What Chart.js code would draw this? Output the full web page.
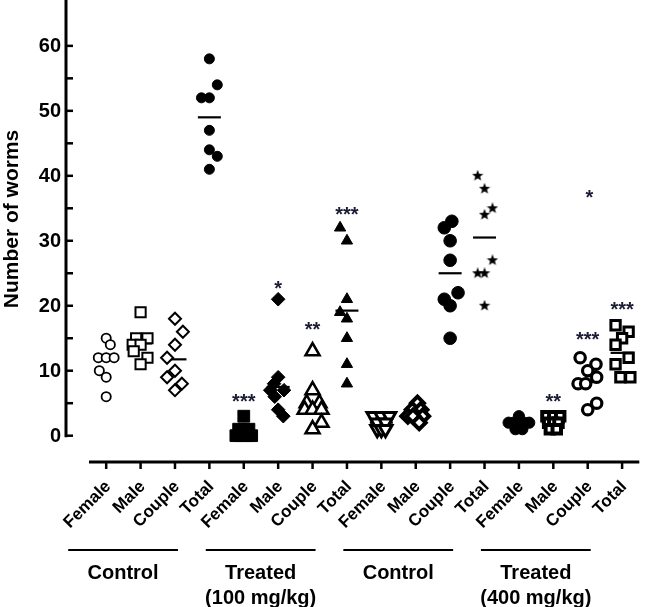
<!DOCTYPE html>
<html>
<head>
<meta charset="utf-8">
<script src="https://cdn.jsdelivr.net/npm/chart.js@4.4.1/dist/chart.umd.min.js"></script>
<style>
  html, body { margin: 0; padding: 0; background: #fff; }
</style>
</head>
<body>
<canvas id="chart" width="653" height="607"></canvas>
<script>
// ---- data ----
const categories = ['Female', 'Male', 'Couple', 'Total', 'Female', 'Male', 'Couple', 'Total',
                    'Female', 'Male', 'Couple', 'Total', 'Female', 'Male', 'Couple', 'Total'];
const groupNames = [['Control'], ['Treated', '(100 mg/kg)'], ['Control'], ['Treated', '(400 mg/kg)']];
const yTicks = [0, 10, 20, 30, 40, 50, 60];

// worms per animal, one array per column
const ctrlFemale  = [15, 14, 12, 12, 12, 10, 9, 6];
const ctrlMale    = [19, 15, 15, 14, 14, 13, 12, 11];
const ctrlCouple  = [18, 16, 14, 12, 10, 9, 8, 7];
const ctrlTotal   = [58, 54, 52, 52, 47, 44, 43, 41];
const t100Female  = [3, 1, 1, 1, 0, 0, 0, 0];
const t100Male    = [21, 9, 8, 7, 7, 6, 4, 3];
const t100Couple  = [13, 7, 5, 5, 4, 4, 4, 2, 1];
const t100Total   = [32, 30, 21, 19, 18, 15, 11, 8];
const ctrl2Female = [3, 3, 3, 2, 2, 1, 1, 1];
const ctrl2Male   = [5, 4, 4, 3, 3, 3, 3, 2];
const ctrl2Couple = [33, 32, 30, 27, 22, 21, 20, 15];
const ctrl2Total  = [40, 38, 35, 34, 27, 25, 25, 20];
const t400Female  = [3, 2, 2, 2, 2, 2, 1, 1];
const t400Male    = [3, 3, 3, 2, 2, 2, 1, 1];
const t400Couple  = [12, 11, 10, 9, 8, 8, 5, 4];
const t400Total   = [17, 16, 15, 14, 12, 11, 9, 9];

// horizontal scatter of each point inside its column (category units)
const ctrlFemaleJit  = [0, 0.12, -0.23, 0, 0.23, -0.2, 0, 0];
const ctrlMaleJit    = [0, -0.13, 0.2, -0.23, 0, -0.2, 0.2, 0];
const ctrlCoupleJit  = [0, 0.23, 0, -0.23, 0, -0.23, 0.2, 0];
const ctrlTotalJit   = [0, 0.23, -0.23, 0, 0, 0, 0.23, 0];
const t100FemaleJit  = [0, -0.15, 0, 0.15, -0.23, -0.08, 0.08, 0.23];
const t100MaleJit    = [0, 0, -0.12, -0.23, 0.17, -0.1, 0, 0.15];
const t100CoupleJit  = [0, 0, -0.17, 0.2, -0.23, 0, 0.26, 0.26, 0];
const t100TotalJit   = [-0.2, 0, 0, -0.2, 0, 0, 0, 0];
const ctrl2FemaleJit = [-0.23, 0, 0.23, -0.12, 0.12, -0.12, 0, 0.12];
const ctrl2MaleJit   = [0.05, -0.1, 0.15, -0.23, 0, 0.2, -0.08, 0.1];
const ctrl2CoupleJit = [0.05, -0.17, 0, 0, 0.23, -0.17, 0, 0];
const ctrl2TotalJit  = [-0.2, 0, 0.23, 0, 0.23, -0.2, 0, 0];
const t400FemaleJit  = [0, -0.3, -0.15, 0, 0.15, 0.3, -0.1, 0.1];
const t400MaleJit    = [-0.2, 0, 0.2, -0.15, 0, 0.15, -0.1, 0.1];
const t400CoupleJit  = [-0.22, 0.24, 0, 0.26, -0.28, -0.06, 0.26, 0];
const t400TotalJit   = [-0.19, 0.19, 0, -0.19, 0.19, -0.19, -0.05, 0.24];

const columnValues = [ctrlFemale, ctrlMale, ctrlCouple, ctrlTotal, t100Female, t100Male, t100Couple, t100Total,
                      ctrl2Female, ctrl2Male, ctrl2Couple, ctrl2Total, t400Female, t400Male, t400Couple, t400Total];
const columnJitter = [ctrlFemaleJit, ctrlMaleJit, ctrlCoupleJit, ctrlTotalJit, t100FemaleJit, t100MaleJit,
                      t100CoupleJit, t100TotalJit, ctrl2FemaleJit, ctrl2MaleJit, ctrl2CoupleJit, ctrl2TotalJit,
                      t400FemaleJit, t400MaleJit, t400CoupleJit, t400TotalJit];

// mean bars as drawn
const means = [11.7, 14.2, 11.75, 49, 0.75, 7.5, 4.5, 19.25, 2, 3.5, 25, 30.5, 2, 2, 8.25, 12.75];

// significance marks and the value they sit at
const sigMarks  = ['', '', '', '', '***', '*', '**', '***', '', '', '', '', '', '**', '***', '***'];
const sigLevels = [0, 0, 0, 0, 6, 23.4, 17.1, 34.8, 0, 0, 0, 0, 0, 6, 15.5, 20.2];
const extraMarks = [[14.05, 37.5, '*']];

// ---- marker styles ----
function starImage(size) {
    const cv = document.createElement('canvas');
    cv.width = size; cv.height = size;
    const c = cv.getContext('2d');
    const r = size / 2, ri = r * 0.42;
    c.beginPath();
    for (let k = 0; k < 10; k++) {
        const a = -Math.PI / 2 + k * Math.PI / 5;
        const rr = k % 2 ? ri : r;
        c.lineTo(r + rr * Math.cos(a), r + rr * Math.sin(a));
    }
    c.closePath();
    c.fillStyle = '#000';
    c.fill();
    return cv;
}

const W = '#fff', B = '#000';
const markers = [
    { style: 'circle', r: 4.6, fill: W, bw: 1.8 },
    { style: 'rect', r: 7.2, fill: W, bw: 2 },
    { style: 'rectRot', r: 6, fill: W, bw: 2 },
    { style: 'circle', r: 5, fill: B, bw: 1 },
    { style: 'rect', r: 8.3, fill: B, bw: 1 },
    { style: 'rectRot', r: 6.8, fill: B, bw: 1 },
    { style: 'triangle', r: 8, fill: W, bw: 2.6 },
    { style: 'triangle', r: 6.5, fill: B, bw: 1 },
    { style: 'triangle', r: 7.5, fill: W, bw: 3, rot: 180 },
    { style: 'rectRot', r: 6.5, fill: W, bw: 4 },
    { style: 'circle', r: 6.3, fill: B, bw: 1 },
    { style: starImage(12), r: 6, fill: B, bw: 0 },
    { style: 'circle', r: 5.6, fill: B, bw: 1 },
    { style: 'rect', r: 6, fill: W, bw: 4 },
    { style: 'circle', r: 5.2, fill: W, bw: 3.2 },
    { style: 'rect', r: 6.6, fill: W, bw: 3 }
];

const datasets = columnValues.map((vals, i) => ({
    label: categories[i],
    data: vals.map((v, k) => ({ x: i + columnJitter[i][k], y: v })),
    pointStyle: markers[i].style,
    pointRadius: markers[i].r,
    pointRotation: markers[i].rot || 0,
    pointBackgroundColor: markers[i].fill,
    pointBorderColor: B,
    pointBorderWidth: markers[i].bw,
    showLine: false,
    clip: false
}));

datasets.push({
    label: 'mean',
    data: means.map((m, i) => ({ x: i, y: m })),
    pointStyle: 'line',
    pointRadius: 11.5,
    pointBorderColor: B,
    pointBorderWidth: 2.2,
    showLine: false,
    clip: false
});

const FONT = '"Liberation Sans", Arial, sans-serif';

const axesPlugin = {
    id: 'prismAxes',
    beforeDatasetsDraw(chart) {
        const { ctx, scales: { x, y } } = chart;
        ctx.save();
        ctx.strokeStyle = B;
        ctx.lineCap = 'butt';

        // y axis
        const ax = 66;
        ctx.lineWidth = 3;
        ctx.beginPath();
        ctx.moveTo(ax, 0);
        ctx.lineTo(ax, y.getPixelForValue(0) + 1.5);
        ctx.stroke();
        ctx.lineWidth = 2.5;
        for (let v = 0; v <= 60; v += 5) {
            const py = y.getPixelForValue(v);
            ctx.beginPath();
            ctx.moveTo(ax - 1, py);
            ctx.lineTo(ax + 7, py);
            ctx.stroke();
        }
        ctx.fillStyle = B;
        ctx.font = 'bold 20px ' + FONT;
        ctx.textAlign = 'right';
        ctx.textBaseline = 'middle';
        yTicks.forEach(v => ctx.fillText(String(v), 61, y.getPixelForValue(v) + 1));

        // x axis
        const ay = 462;
        ctx.lineWidth = 3;
        ctx.beginPath();
        ctx.moveTo(chart.chartArea.left, ay);
        ctx.lineTo(chart.chartArea.right, ay);
        ctx.stroke();
        ctx.lineWidth = 2.5;
        categories.forEach((c, i) => {
            const px = x.getPixelForValue(i);
            ctx.beginPath();
            ctx.moveTo(px, ay);
            ctx.lineTo(px, ay + 7);
            ctx.stroke();
        });
        ctx.restore();
    },
    afterDraw(chart) {
        const { ctx, scales: { x, y } } = chart;
        ctx.save();
        ctx.fillStyle = B;

        // rotated category labels
        ctx.font = 'bold 17px ' + FONT;
        ctx.textAlign = 'right';
        ctx.textBaseline = 'middle';
        categories.forEach((c, i) => {
            const px = x.getPixelForValue(i);
            ctx.save();
            ctx.translate(px + 2, 484);
            ctx.rotate(-Math.PI / 4);
            ctx.fillText(c, 0, 0);
            ctx.restore();
        });

        // group bars and names
        groupNames.forEach((lines, g) => {
            const x0 = x.getPixelForValue(g * 4) - 38;
            const x1 = x.getPixelForValue(g * 4 + 2) + 3;
            ctx.lineWidth = 2;
            ctx.strokeStyle = B;
            ctx.beginPath();
            ctx.moveTo(x0, 550);
            ctx.lineTo(x1, 550);
            ctx.stroke();
            ctx.font = 'bold 20px ' + FONT;
            ctx.textAlign = 'center';
            lines.forEach((t, k) => ctx.fillText(t, (x0 + x1) / 2, 573 + k * 25));
        });

        // y title
        ctx.save();
        ctx.translate(12, 219);
        ctx.rotate(-Math.PI / 2);
        ctx.font = 'bold 21px ' + FONT;
        ctx.textAlign = 'center';
        ctx.textBaseline = 'middle';
        ctx.fillText('Number of worms', 0, 0);
        ctx.restore();

        // significance marks
        ctx.fillStyle = '#1c1c34';
        ctx.font = 'bold 20px ' + FONT;
        ctx.textAlign = 'center';
        ctx.textBaseline = 'alphabetic';
        const mark = (xi, lvl, s) => ctx.fillText(s, x.getPixelForValue(xi), y.getPixelForValue(lvl) + 11.5);
        sigMarks.forEach((s, i) => { if (s) mark(i, sigLevels[i], s); });
        extraMarks.forEach(m => mark(m[0], m[1], m[2]));
        ctx.restore();
    }
};

new Chart(document.getElementById('chart'), {
    type: 'scatter',
    data: { datasets },
    options: {
        responsive: false,
        animation: false,
        devicePixelRatio: 1,
        layout: { padding: { left: 89, right: 6, top: 2, bottom: 145 } },
        plugins: { legend: { display: false }, tooltip: { enabled: false } },
        scales: {
            x: { type: 'linear', min: -0.5, max: 15.5, display: false },
            y: { type: 'linear', min: -4.05, max: 64.95, display: false }
        }
    },
    plugins: [axesPlugin]
});
</script>
</body>
</html>
